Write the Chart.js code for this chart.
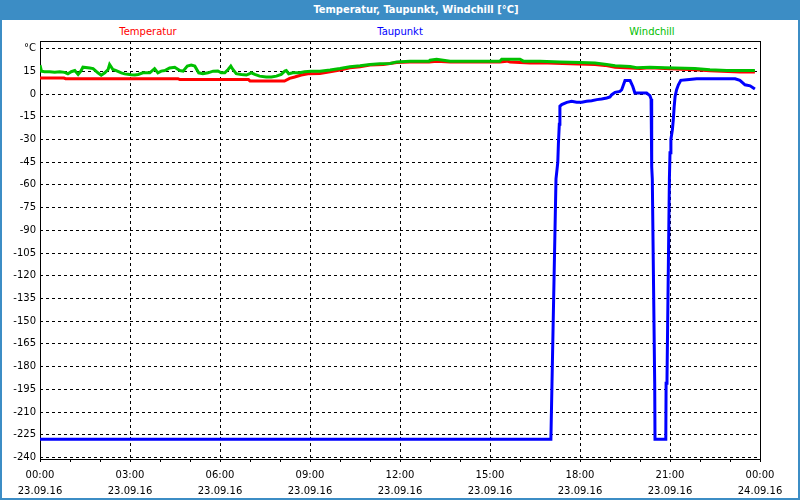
<!DOCTYPE html>
<html>
<head>
<meta charset="utf-8">
<script src="https://cdn.jsdelivr.net/npm/chart.js@4/dist/chart.umd.min.js"></script>
<style>
    html, body { margin: 0; padding: 0; background: #fff; }
    #frame {
        position: relative; width: 800px; height: 500px; box-sizing: border-box;
        border: 2px solid #3c8dc5; border-top: 0; background: #fff; overflow: hidden;
        font-family: 'DejaVu Sans', sans-serif;
    }
    #titlebar {
        position: absolute; left: -2px; top: 0; width: 800px; height: 20px; background: #3c8dc5;
        color: #fff; font: bold 11px 'DejaVu Sans Condensed', 'DejaVu Sans', sans-serif;
        line-height: 20px;
    }
    #titlebar span { position: absolute; left: 416px; transform: translateX(-50%); white-space: nowrap; }
    .leg { position: absolute; top: 25px; font-size: 10px; line-height: 14px; transform: translateX(-50%); white-space: nowrap; }
    #chartBox { position: absolute; left: 0; top: 18px; width: 796px; height: 477px; }
</style>
</head>
<body>
<div id="frame">
    <div id="titlebar"><span>Temperatur, Taupunkt, Windchill [°C]</span></div>
    <span class="leg" style="left:146px;color:#ff0000">Temperatur</span>
    <span class="leg" style="left:398px;color:#0000ff">Taupunkt</span>
    <span class="leg" style="left:650px;color:#00c000">Windchill</span>
    <div id="chartBox"><canvas id="tempChart" width="796" height="477"></canvas></div>
</div>
<script>
// hours since 23.09.16 00:00
const tempHours = [0, 0.8, 0.85, 4.6, 4.66, 6.95, 7.0, 8.15, 8.32, 8.49, 8.71, 8.93, 9.33, 9.67, 10.0, 10.33, 10.67, 11.0, 11.44, 11.67, 11.89, 12.33, 12.97, 13.22, 13.67, 15.33, 15.56, 15.67, 16.33, 16.67, 17.67, 18.5, 18.83, 19.17, 20.0, 20.33, 20.83, 21.83, 22.33, 23.33, 23.83];
const tempValues = [10.5, 10.5, 10.1, 10.1, 9.5, 9.5, 8.6, 8.6, 10.3, 11.2, 12.5, 13.4, 13.6, 14.7, 15.8, 17.3, 18.0, 19.1, 19.5, 20.1, 20.8, 21.2, 21.2, 21.7, 21.2, 21.2, 21.7, 21.2, 20.4, 20.6, 20.0, 19.5, 18.9, 17.7, 16.9, 17.3, 16.9, 16.0, 15.4, 14.5, 14.5];

const dewHours = [0, 17.03, 17.2, 17.26, 17.28, 17.31, 17.33, 17.39, 17.56, 17.72, 17.89, 18.06, 18.22, 18.39, 18.56, 18.72, 18.89, 19.0, 19.06, 19.17, 19.33, 19.39, 19.5, 19.67, 19.76, 19.83, 20.22, 20.33, 20.37, 20.39, 20.41, 20.49, 20.5, 20.86, 20.87, 20.9, 20.98, 21.0, 21.03, 21.08, 21.11, 21.14, 21.17, 21.22, 21.28, 21.36, 21.56, 21.89, 23.17, 23.33, 23.5, 23.67, 23.83];
const dewValues = [-228, -228, -56, -45, -33, -20, -8.1, -7.0, -5.5, -4.8, -5.5, -5.5, -4.8, -4.4, -3.7, -3.3, -2.6, -2.0, -0.45, 1.1, 1.7, 2.8, 8.9, 8.9, 5.0, 0.64, 0.64, -1.1, -3.3, -48, -56, -191, -228, -228, -191, -188, -56, -38.8, -30, -23.5, -16.9, -8.1, -1.6, 2.8, 6.1, 9.0, 9.4, 10.1, 10.1, 9.0, 6.1, 5.4, 3.3];

const chillHours = [0, 0.05, 0.15, 0.32, 0.49, 0.66, 0.82, 0.93, 1.04, 1.16, 1.27, 1.36, 1.43, 1.66, 1.77, 1.93, 2.04, 2.16, 2.27, 2.32, 2.43, 2.54, 2.71, 2.82, 2.93, 3.04, 3.16, 3.27, 3.43, 3.66, 3.82, 3.93, 4.04, 4.16, 4.32, 4.49, 4.66, 4.77, 4.91, 5.04, 5.16, 5.29, 5.43, 5.6, 5.77, 5.93, 6.04, 6.16, 6.27, 6.36, 6.43, 6.54, 6.71, 6.88, 6.99, 7.04, 7.16, 7.32, 7.54, 7.71, 7.88, 8.04, 8.16, 8.21, 8.29, 8.43, 8.66, 8.82, 9.04, 9.33, 9.67, 10.0, 10.33, 10.67, 11.0, 11.33, 11.67, 11.89, 12.33, 12.97, 13.0, 13.22, 13.67, 15.33, 15.39, 16.0, 16.11, 16.67, 17.33, 18.0, 18.5, 18.89, 19.17, 19.67, 19.89, 20.33, 20.83, 21.83, 22.33, 22.89, 23.83];
const chillValues = [19.0, 15.0, 14.7, 14.7, 14.3, 14.7, 14.3, 13.4, 14.7, 15.5, 12.9, 15.1, 17.7, 17.2, 16.8, 14.0, 12.4, 14.0, 16.2, 19.5, 16.2, 15.5, 14.0, 13.3, 13.0, 12.7, 12.5, 12.9, 14.0, 14.0, 16.8, 14.0, 15.1, 15.5, 17.2, 17.7, 15.5, 15.1, 18.4, 19.1, 18.4, 14.0, 13.4, 14.0, 15.1, 15.2, 14.0, 14.0, 16.2, 18.4, 16.2, 13.4, 12.9, 12.5, 13.4, 14.0, 12.9, 11.8, 11.2, 11.2, 11.8, 12.9, 15.1, 15.5, 13.4, 14.0, 14.0, 14.7, 15.1, 15.1, 15.8, 16.8, 18.0, 18.6, 19.5, 19.9, 20.1, 21.2, 21.7, 21.7, 22.3, 23.0, 21.7, 21.7, 23.0, 23.0, 21.7, 21.7, 21.2, 20.8, 20.4, 19.5, 18.6, 18.1, 17.3, 17.7, 17.3, 16.9, 16.0, 15.5, 15.5];

const yTicks = [-240, -225, -210, -195, -180, -165, -150, -135, -120, -105, -90, -75, -60, -45, -30, -15, 0, 15, 30];
const xTickHours = [0, 3, 6, 9, 12, 15, 18, 21, 24];
const xTickTimes = ['00:00', '03:00', '06:00', '09:00', '12:00', '15:00', '18:00', '21:00', '00:00'];
const xTickDates = ['23.09.16', '23.09.16', '23.09.16', '23.09.16', '23.09.16', '23.09.16', '23.09.16', '23.09.16', '24.09.16'];

const toPoints = (hs, vs) => hs.map((h, i) => ({ x: h, y: vs[i] }));
const axisFont = { family: "'DejaVu Sans', sans-serif", size: 10 };

// black frame round the plot area
const plotFrame = {
    id: 'plotFrame',
    beforeDatasetsDraw(chart) {
        const a = chart.chartArea, ctx = chart.ctx;
        ctx.save();
        ctx.strokeStyle = '#000';
        ctx.lineWidth = 1;
        ctx.strokeRect(Math.round(a.left) + 0.5, Math.round(a.top) + 0.5, Math.round(a.right - a.left), Math.round(a.bottom - a.top));
        ctx.restore();
    }
};

new Chart(document.getElementById('tempChart').getContext('2d'), {
    type: 'line',
    data: {
        datasets: [
            { label: 'Temperatur', data: toPoints(tempHours, tempValues), borderColor: '#ff0000', borderWidth: 3, pointRadius: 0, tension: 0, order: 2 },
            { label: 'Taupunkt', data: toPoints(dewHours, dewValues), borderColor: '#0000ff', borderWidth: 3, pointRadius: 0, tension: 0, order: 0 },
            { label: 'Windchill', data: toPoints(chillHours, chillValues), borderColor: '#00c000', borderWidth: 3, pointRadius: 0, tension: 0, order: 1 }
        ]
    },
    options: {
        responsive: false,
        animation: false,
        layout: { padding: { top: 23, right: 38, left: 0, bottom: 0 } },
        plugins: { legend: { display: false }, tooltip: { enabled: false } },
        scales: {
            x: {
                type: 'linear', min: 0, max: 24,
                afterBuildTicks: s => { s.ticks = Array.from({ length: 25 }, (_, h) => ({ value: h })); },
                afterFit: s => { s.height = 36; },
                ticks: {
                    autoSkip: false, maxRotation: 0, minRotation: 0, padding: 5, color: '#000',
                    font: { ...axisFont, lineHeight: 1.6 },
                    callback: v => {
                        const i = xTickHours.indexOf(v);
                        return i < 0 ? '' : [xTickTimes[i], xTickDates[i]];
                    }
                },
                grid: {
                    color: c => (c.tick && c.tick.value % 3 === 0) ? '#000' : 'rgba(0,0,0,0)',
                    tickColor: '#000', tickLength: 3, tickBorderDash: []
                },
                border: { display: false, dash: [3, 3] }
            },
            y: {
                min: -241, max: 35,
                afterBuildTicks: s => { s.ticks = yTicks.map(v => ({ value: v })); },
                afterFit: s => { s.width = 38; },
                ticks: { padding: 4, color: '#000', font: axisFont, callback: v => v === 30 ? '°C' : String(v) },
                grid: { color: '#000', drawTicks: false },
                border: { display: false, dash: [3, 3] }
            }
        }
    },
    plugins: [plotFrame]
});
</script>
</body>
</html>
